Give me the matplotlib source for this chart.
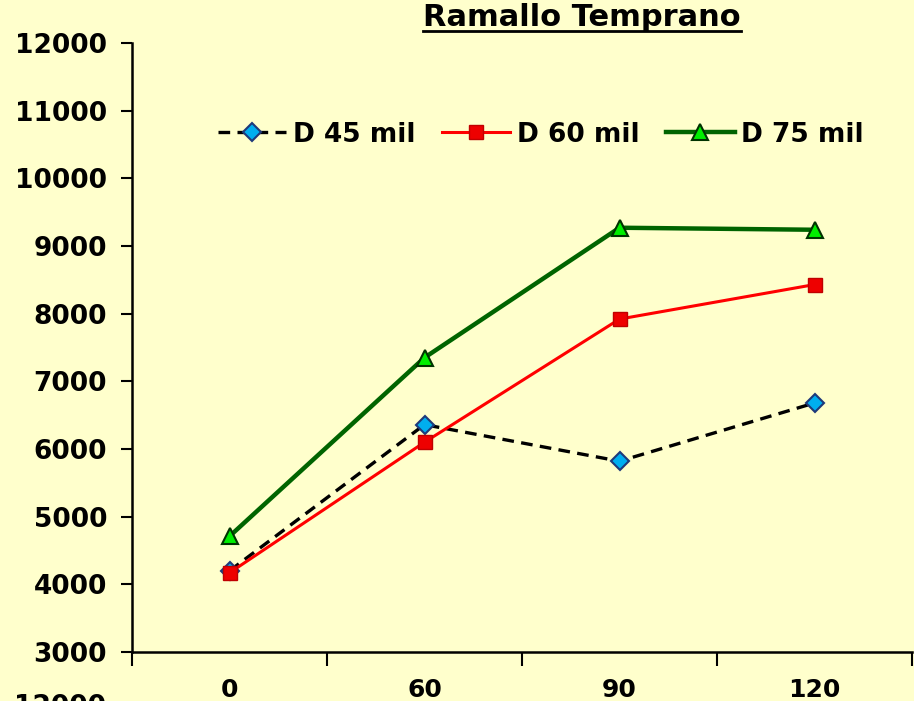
"""Ramallo Temprano: yield by days for three plant densities."""

import matplotlib

matplotlib.use("Agg")
import matplotlib.pyplot as plt
from matplotlib.lines import Line2D

days = ["0", "60", "90", "120"]
d45 = [4200, 6360, 5820, 6680]
d60 = [4170, 6100, 7920, 8430]
d75 = [4710, 7350, 9270, 9240]
yticks = list(range(3000, 13000, 1000))

BG = "#FFFFCC"

plt.rcParams["font.family"] = ["DejaVu Sans"]
plt.rcParams["font.weight"] = "bold"

fig = plt.figure(figsize=(9.14, 7.01), dpi=100, facecolor=BG)
ax = fig.add_axes([132 / 914, 49 / 701, 780 / 914, 609 / 701])
ax.set_facecolor(BG)

x = list(range(len(days)))
ax.plot(x, d45, color="black", linestyle=(0, (3.5, 2.2)), linewidth=2.4,
        marker="D", markersize=9, markerfacecolor="#00AEEF",
        markeredgecolor="#1F3A7A", markeredgewidth=1.5, label="D 45 mil", zorder=3)
ax.plot(x, d60, color="#FF0000", linewidth=2.2,
        marker="s", markersize=10, markerfacecolor="#EE0000",
        markeredgecolor="#C00000", markeredgewidth=1.0, label="D 60 mil", zorder=3)
ax.plot(x, d75, color="#006400", linewidth=3.2,
        marker="^", markersize=12, markerfacecolor="#00EE00",
        markeredgecolor="#003300", markeredgewidth=1.5, label="D 75 mil", zorder=3)

ax.set_xlim(-0.5, len(days) - 0.5)
ax.set_ylim(3000, 12000)
ax.set_yticks(yticks)
ax.set_yticklabels([str(v) for v in yticks], fontsize=19, fontweight="bold")

# category boundaries as major ticks, labels at centres
ax.set_xticks([i - 0.5 for i in range(len(days) + 1)])
ax.set_xticklabels([])
ax.set_xticks(x, minor=True)
ax.set_xticklabels(days, minor=True, fontsize=18, fontweight="bold")
ax.tick_params(axis="x", which="major", length=10, width=1.5, direction="out")
ax.tick_params(axis="x", which="minor", length=0, pad=19)
ax.tick_params(axis="y", length=8, width=1.5, direction="out", pad=10)

for side in ["top", "right"]:
    ax.spines[side].set_visible(False)
for side in ["left", "bottom"]:
    ax.spines[side].set_linewidth(1.8)

leg = ax.legend(loc="upper center", bbox_to_anchor=(0.524, 0.91), ncol=3, frameon=False,
                prop={"size": 19, "weight": "bold"}, handlelength=2.6,
                handletextpad=0.25, columnspacing=1.0)

title = fig.text(582 / 914, 1 - 18 / 701, "Ramallo Temprano", ha="center", va="center",
                 fontsize=22, fontweight="bold")
fig.canvas.draw()
bb = title.get_window_extent().transformed(fig.transFigure.inverted())
fig.add_artist(Line2D([bb.x0, bb.x1], [bb.y0 + 0.002, bb.y0 + 0.002],
                      transform=fig.transFigure, color="black", linewidth=2))

# top of the next chart's axis label, cut by the edge
fig.text(14 / 914, 1 - 694 / 701, "12000", ha="left", va="top", fontsize=19, fontweight="bold")

fig.savefig("out.png", dpi=100, facecolor=BG)
